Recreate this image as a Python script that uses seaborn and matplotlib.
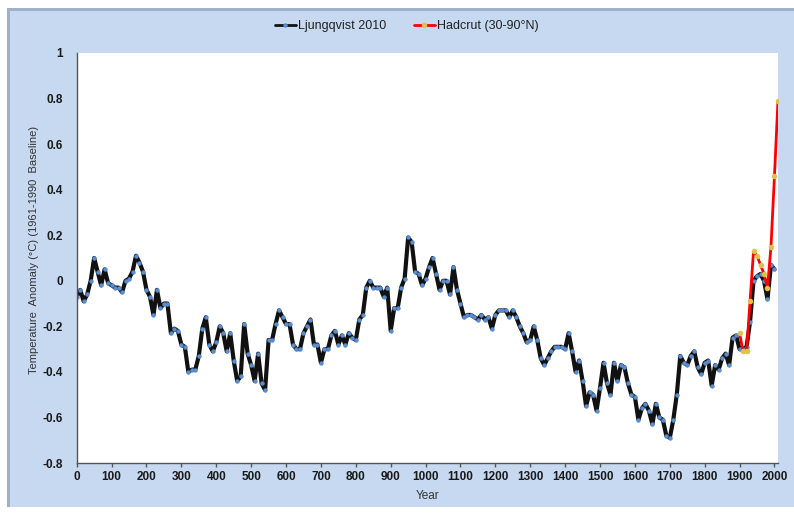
import numpy as np
import pandas as pd
import seaborn as sns
import matplotlib.pyplot as plt
from matplotlib.patches import Rectangle

# Decadal reconstruction, AD 0 - 2000
years = list(range(0, 2001, 10))
ljungqvist = [
    -0.07, -0.04, -0.09, -0.06, 0.00, 0.10, 0.04, -0.02, 0.05, -0.01,
    -0.02, -0.03, -0.03, -0.05, 0.00, 0.01, 0.04, 0.11, 0.08, 0.04,
    -0.04, -0.07, -0.15, -0.04, -0.12, -0.10, -0.10, -0.23, -0.21, -0.22,
    -0.28, -0.29, -0.40, -0.39, -0.39, -0.33, -0.21, -0.16, -0.28, -0.31,
    -0.27, -0.20, -0.23, -0.31, -0.23, -0.35, -0.44, -0.42, -0.19, -0.32,
    -0.37, -0.44, -0.32, -0.45, -0.48, -0.26, -0.26, -0.19, -0.13, -0.16,
    -0.19, -0.19, -0.28, -0.30, -0.30, -0.23, -0.20, -0.17, -0.28, -0.28,
    -0.36, -0.30, -0.30, -0.24, -0.22, -0.28, -0.24, -0.28, -0.23, -0.25,
    -0.26, -0.17, -0.15, -0.03, 0.00, -0.03, -0.03, -0.03, -0.07, -0.03,
    -0.22, -0.12, -0.12, -0.03, 0.01, 0.19, 0.17, 0.04, 0.03, -0.02,
    0.01, 0.06, 0.10, 0.03, -0.04, 0.00, 0.00, -0.06, 0.06, -0.04,
    -0.10, -0.16, -0.15, -0.15, -0.16, -0.17, -0.15, -0.17, -0.16, -0.21,
    -0.15, -0.13, -0.13, -0.13, -0.16, -0.13, -0.16, -0.20, -0.23, -0.27,
    -0.26, -0.20, -0.26, -0.34, -0.37, -0.34, -0.31, -0.29, -0.29, -0.29,
    -0.30, -0.23, -0.31, -0.40, -0.35, -0.44, -0.55, -0.49, -0.50, -0.57,
    -0.47, -0.36, -0.45, -0.50, -0.36, -0.44, -0.37, -0.38, -0.45, -0.50,
    -0.51, -0.61, -0.56, -0.54, -0.57, -0.63, -0.54, -0.60, -0.61, -0.68,
    -0.69, -0.61, -0.50, -0.33, -0.36, -0.37, -0.33, -0.31, -0.38, -0.41,
    -0.36, -0.35, -0.46, -0.37, -0.39, -0.34, -0.32, -0.37, -0.25, -0.24,
    -0.30, -0.30, -0.29, -0.18, 0.00, 0.02, 0.03, 0.00, -0.08, 0.07,
    0.05,
]

# Instrumental record, decadal
hadcrut_years = list(range(1900, 2011, 10))
hadcrut = [-0.23, -0.31, -0.31, -0.09, 0.13, 0.11, 0.07, 0.03, -0.03, 0.15, 0.46, 0.79]

x_ticks = list(range(0, 2001, 100))
y_ticks = [-0.8, -0.6, -0.4, -0.2, 0, 0.2, 0.4, 0.6, 0.8, 1]
y_tick_labels = ["-0.8", "-0.6", "-0.4", "-0.2", "0", "0.2", "0.4", "0.6", "0.8", "1"]

sns.set_theme(style="white")
plt.rcParams['font.family'] = ['Liberation Sans', 'DejaVu Sans']

fig = plt.figure(figsize=(7.94, 5.16), dpi=100)
fig.patch.set_facecolor("white")

# Excel-like chart area with a shadow edge on the left and top
fig.patches.append(Rectangle((0.0088, 0.0174), 0.9912, 0.967, transform=fig.transFigure,
                             facecolor="#9FB0C8", edgecolor="none", zorder=-2))
fig.patches.append(Rectangle((0.0126, 0.0174), 0.9874, 0.961, transform=fig.transFigure,
                             facecolor="#C6D9F0", edgecolor="none", zorder=-1))

ax = fig.add_axes([0.0966, 0.1027, 0.8832, 0.7946])
ax.set_facecolor("white")

df_lj = pd.DataFrame({"Year": years, "Anomaly": ljungqvist})
df_hc = pd.DataFrame({"Year": hadcrut_years, "Anomaly": hadcrut})

sns.lineplot(data=df_lj, x="Year", y="Anomaly", ax=ax, color="#111111", linewidth=3.0,
             marker="o", markersize=2.4, markerfacecolor="#5B8DCF", markeredgecolor="#5B8DCF",
             label="Ljungqvist 2010")
sns.lineplot(data=df_hc, x="Year", y="Anomaly", ax=ax, color="#FF0000", linewidth=2.0,
             marker="o", markersize=3.2, markerfacecolor="#E2C04C", markeredgecolor="#E2C04C",
             label="Hadcrut (30-90°N)")

ax.set_xlim(0, 2010)
ax.set_ylim(-0.8, 1)
ax.set_xticks(x_ticks)
ax.set_yticks(y_ticks)
ax.set_yticklabels(y_tick_labels)

for side in ["top", "right"]:
    ax.spines[side].set_visible(False)
for side in ["left", "bottom"]:
    ax.spines[side].set_color("#555555")
    ax.spines[side].set_linewidth(1.0)

ax.tick_params(axis="x", direction="out", length=3, width=1, color="#555555",
               labelsize=8.5, labelcolor="#1a1a1a", pad=3, bottom=True)
ax.tick_params(axis="y", direction="out", length=0, labelsize=8.5, labelcolor="#1a1a1a", pad=10, left=True)
plt.setp(ax.get_xticklabels(), fontweight="bold")
plt.setp(ax.get_yticklabels(), fontweight="bold")

ax.set_xlabel("Year", fontsize=8.5, color="#333333")
ax.xaxis.set_label_coords(0.5, -0.066)
ax.set_ylabel("Temperature  Anomaly (°C) (1961-1990  Baseline)", fontsize=8, color="#333333")
ax.yaxis.set_label_coords(-0.054, 0.52)

leg = ax.legend(loc="center", bbox_to_anchor=(0.512, 0.949), bbox_transform=fig.transFigure,
                ncol=2, frameon=False, fontsize=9, handlelength=1.7, handletextpad=0.15,
                columnspacing=2.2, labelcolor="#222222")
for h in leg.legend_handles:
    h.set_linewidth(2.0)

plt.savefig("out.png", dpi=100)
